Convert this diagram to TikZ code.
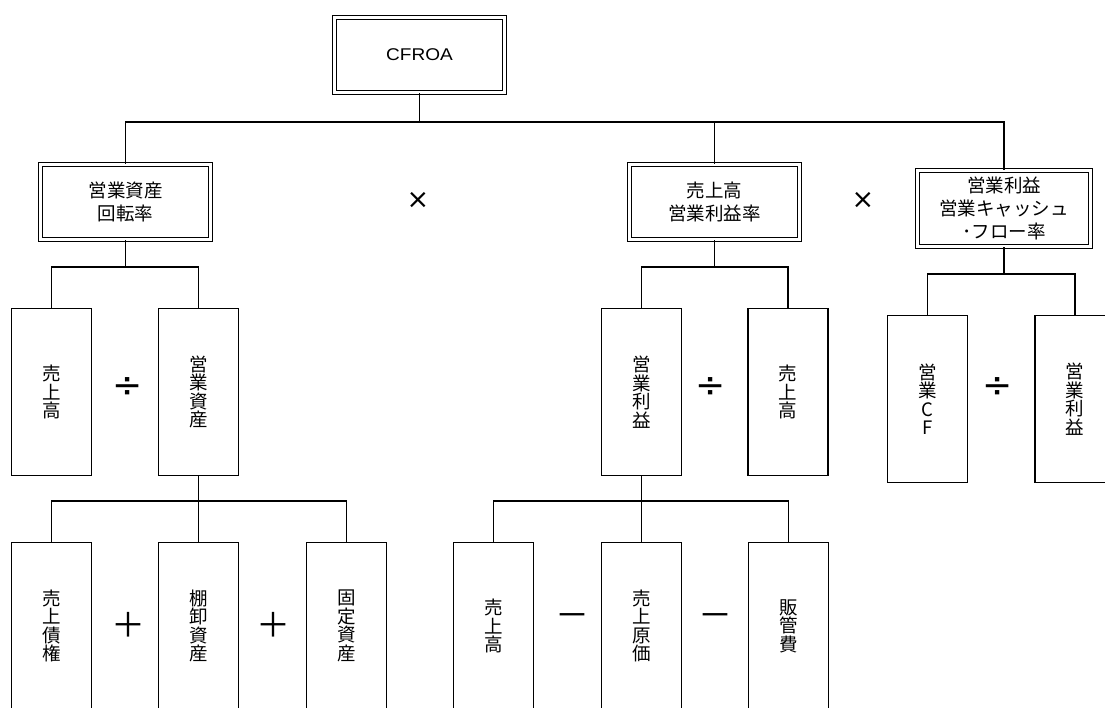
\documentclass[tikz,border=0pt]{standalone}
\usepackage{fontspec}
\setmainfont{Noto Sans CJK JP}
\newfontfamily\latinfont[FakeStretch=1.12]{Liberation Sans}
\newfontfamily\symfont{DejaVu Sans}
\begin{document}
\begin{tikzpicture}[x=1pt,y=-1pt]
\tikzset{
  dbox/.style={draw, double, double distance=2.7pt, line width=1.3pt, minimum width=170pt, minimum height=75pt, inner sep=0pt, align=center, font=\fontsize{18.5}{23}\selectfont},
  vbox/.style={draw, line width=1.3pt, minimum width=80pt, minimum height=167pt, inner sep=0pt, align=center, font=\fontsize{18.5}{18.5}\selectfont},
  opsym/.style={inner sep=0pt, font=\symfont\fontsize{36}{36}\selectfont},
  optimes/.style={inner sep=0pt, font=\symfont\fontsize{27}{27}\selectfont},
  opcjk/.style={inner sep=0pt, font=\fontsize{34}{34}\selectfont},
  conn/.style={line width=1.3pt}
}
\useasboundingbox (0,0) rectangle (1105,707);
\clip (0,0) rectangle (1105,707);
% top level
\node[dbox, font=\latinfont\fontsize{17}{20}\selectfont] (cfroa) at (419.5,55) {CFROA};
\node[dbox] (r1) at (125.5,202) {営業資産\\回転率};
\node[dbox] (r2) at (714.5,202) {売上高\\営業利益率};
\node[dbox, minimum width=173pt, minimum height=76pt] (r3) at (1004,208.5) {営業利益\\営業キャッシュ\\･フロー率};
\node[optimes] (x1) at (418,200) {×};
\node[optimes] (x2) at (863,200) {×};
% second level
\node[vbox] (a1) at (51.5,392) {売\\上\\高};
\node[vbox] (a2) at (198.5,392) {営\\業\\資\\産};
\node[vbox] (b1) at (641.5,392) {営\\業\\利\\益};
\node[vbox] (b2) at (788,392) {売\\上\\高};
\node[vbox] (c1) at (927.5,399) {営\\業\\C\\F};
\node[vbox] (c2) at (1075,399) {営\\業\\利\\益};
\node[opsym] (d1) at (128,388) {÷};
\node[opsym] (d2) at (711,388) {÷};
\node[opsym] (d3) at (998,388) {÷};
% third level
\node[vbox] (e1) at (51.5,626) {売\\上\\債\\権};
\node[vbox] (e2) at (198.5,626) {棚\\卸\\資\\産};
\node[vbox] (e3) at (346.5,626) {固\\定\\資\\産};
\node[vbox] (f1) at (493.5,626) {売\\上\\高};
\node[vbox] (f2) at (641.5,626) {売\\上\\原\\価};
\node[vbox] (f3) at (788.5,626) {販\\管\\費};
\node[opcjk] (p1) at (128,625) {＋};
\node[opcjk] (p2) at (273,625) {＋};
\node[opcjk] (m1) at (572,621) {－};
\node[opcjk] (m2) at (715,621) {－};
% connectors
\coordinate (j0) at (419.5,122);
\draw[conn] (cfroa.south) -- (j0);
\draw[conn] (r1.north) |- (j0);
\draw[conn] (r3.north) |- (j0);
\draw[conn] (r2.north) -- (r2.north |- j0);
\coordinate (j1) at (125.5,267);
\draw[conn] (r1.south) -- (j1);
\draw[conn] (a1.north) |- (j1);
\draw[conn] (a2.north) |- (j1);
\coordinate (j2) at (714.5,267);
\draw[conn] (r2.south) -- (j2);
\draw[conn] (b1.north) |- (j2);
\draw[conn] (b2.north) |- (j2);
\coordinate (j3) at (1004,274);
\draw[conn] (r3.south) -- (j3);
\draw[conn] (c1.north) |- (j3);
\draw[conn] (c2.north) |- (j3);
\coordinate (j4) at (198.5,501);
\draw[conn] (a2.south) -- (e2.north);
\draw[conn] (e1.north) |- (j4);
\draw[conn] (e3.north) |- (j4);
\coordinate (j5) at (641.5,501);
\draw[conn] (b1.south) -- (f2.north);
\draw[conn] (f1.north) |- (j5);
\draw[conn] (f3.north) |- (j5);
\end{tikzpicture}
\end{document}
